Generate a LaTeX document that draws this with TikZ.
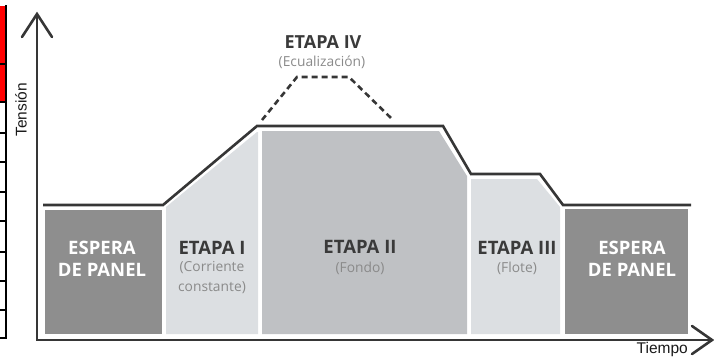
\documentclass[tikz,border=0pt]{standalone}
\usepackage{fontspec}
\setmainfont{Open Sans}
\newfontfamily\arialf{Liberation Sans}
\definecolor{linec}{HTML}{363636}
\definecolor{darkbox}{HTML}{8E8E8E}
\definecolor{lightbox}{HTML}{DCDFE2}
\definecolor{midbox}{HTML}{BFC1C4}
\definecolor{titlec}{HTML}{3A3A3A}
\definecolor{subc}{HTML}{8A8A8A}
\tikzset{
  axisline/.style={draw=linec, line width=2.6pt, line cap=round, line join=miter},
  profile/.style={draw=linec, line width=2.6pt, line join=miter},
  dashprofile/.style={draw=linec, line width=2.6pt, dash pattern=on 6pt off 4pt},
  boxtitle/.style={font=\fontsize{18.5}{20}\selectfont\bfseries, text=titlec, inner sep=0pt},
  boxsub/.style={font=\fontsize{13.8}{20}\selectfont, text=subc, inner sep=0pt, align=center},
  waittext/.style={font=\fontsize{18.5}{22}\selectfont\bfseries, text=white, inner sep=0pt, align=center},
  axislabel/.style={font=\arialf\fontsize{15.5}{17}\selectfont, text=black!90, inner sep=0pt},
  stripline/.style={draw=black, line width=2pt}
}
\begin{document}
\begin{tikzpicture}[x=1pt,y=-1pt]
\useasboundingbox (0,0) rectangle (714,356);
% left strip fragment
\fill[red] (0,6) rectangle (5,101);
\foreach \yy in {64,102,133,162,192,221,252,281,310,338}
  \draw[stripline] (0,\yy) -- (7,\yy);
\draw[stripline] (6,5) -- (6,339);
% boxes
\fill[darkbox] (45,210) rectangle (162,334);
\fill[lightbox] (166,207) -- (257,132) -- (258,132) -- (258,334) -- (166,334) -- cycle;
\fill[midbox] (262,131) -- (439,131) -- (467,176) -- (467,334) -- (262,334) -- cycle;
\fill[lightbox] (471,179) -- (537,179) -- (560,207) -- (560,334) -- (471,334) -- cycle;
\fill[darkbox] (565,209) rectangle (688,334);
% profile
\draw[profile] (43,205) -- (163,205) -- (257,126) -- (443,126) -- (471,174) -- (540,174) -- (563,205) -- (691,205);
\draw[dashprofile] (262,120) -- (297,77) -- (349,77) -- (393,120);
% axes
\draw[axisline] (37,14) -- (37,340) -- (712,340);
\draw[axisline] (22,37) -- (37,14) -- (52,37);
\draw[axisline] (692,326) -- (712,340) -- (692,354);
\node[axislabel, rotate=90] (tension) at (21,110) {Tensión};
\node[axislabel, anchor=base east] (tiempo) at (688,353) {Tiempo};
% texts
\node[font=\fontsize{18}{20}\selectfont\bfseries, text=titlec, inner sep=0pt] (t4) at (323,42) {ETAPA IV};
\node[boxsub] (s4) at (322,62) {(Ecualización)};
\node[waittext] (w1) at (102,259) {ESPERA\\DE PANEL};
\node[boxtitle] (t1) at (212,248) {ETAPA I};
\node[boxsub] (s1) at (212,278) {(Corriente\\constante)};
\node[boxtitle] (t2) at (360,247) {ETAPA II};
\node[boxsub] (s2) at (360,268) {(Fondo)};
\node[boxtitle] (t3) at (517,248) {ETAPA III};
\node[boxsub] (s3) at (517,268) {(Flote)};
\node[waittext] (w2) at (632,259) {ESPERA\\DE PANEL};
\end{tikzpicture}
\end{document}
